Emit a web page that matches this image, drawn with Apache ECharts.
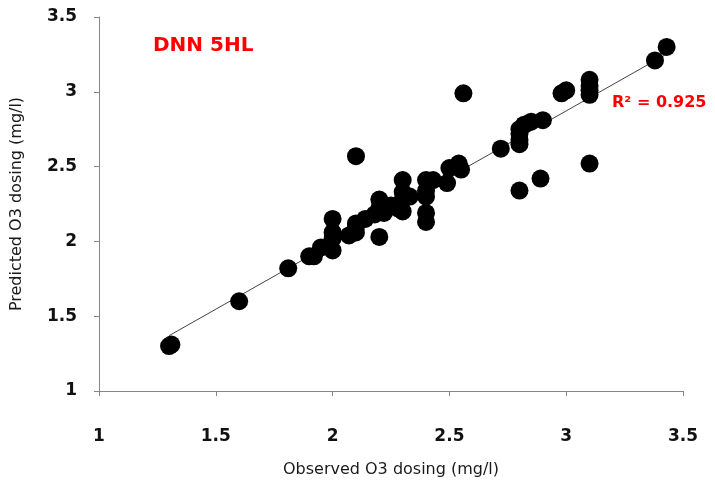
<!DOCTYPE html>
<html>
<head>
<meta charset="utf-8">
<script src="https://cdn.jsdelivr.net/npm/echarts@6/dist/echarts.min.js"></script>
<style>html,body{margin:0;padding:0;background:#fff}#c{width:715px;height:490px}</style>
</head>
<body>
<div id="c"></div>
<script>
// observed (x) and predicted (y) O3 dosing, mg/l
var observed = [1.30,1.31,1.60,1.81,1.90,1.92,1.95,2.00,2.00,2.00,2.00,2.07,2.10,2.10,2.10,2.10,2.14,2.18,2.20,2.20,2.20,2.22,2.25,2.28,2.30,2.30,2.30,2.30,2.33,2.40,2.40,2.40,2.40,2.40,2.43,2.49,2.50,2.54,2.55,2.56,2.72,2.80,2.80,2.80,2.80,2.80,2.82,2.85,2.90,2.89,2.98,3.00,3.10,3.10,3.10,3.10,3.10,3.38,3.43];
var predicted = [1.30,1.31,1.60,1.82,1.90,1.90,1.96,1.94,2.02,2.06,2.15,2.04,2.06,2.10,2.12,2.57,2.15,2.18,2.03,2.22,2.28,2.19,2.24,2.22,2.20,2.28,2.33,2.41,2.30,2.13,2.19,2.30,2.34,2.41,2.41,2.39,2.49,2.52,2.48,2.99,2.62,2.34,2.65,2.68,2.72,2.75,2.78,2.80,2.81,2.42,2.99,3.01,2.52,2.98,3.01,3.04,3.08,3.21,3.30];
var trendX = [1.30, 3.45];
var trendY = [1.37, 3.27];
var chartTitle = 'DNN 5HL';
var r2Label = 'R² = 0.925';

var points = observed.map(function(v,i){return [v, predicted[i]];});
var trend = trendX.map(function(v,i){return [v, trendY[i]];});
var font = '"DejaVu Sans", sans-serif';
var axisCommon = {
  type: 'value', min: 1, max: 3.5, interval: 0.5,
  axisLine: {show: true, lineStyle: {color: '#868686', width: 1}},
  axisTick: {show: true, inside: false, length: 5, lineStyle: {color: '#868686'}},
  splitLine: {show: false},
  nameLocation: 'middle',
  nameTextStyle: {fontFamily: font, fontSize: 16, color: '#1a1a1a'}
};
var chart = echarts.init(document.getElementById('c'));
chart.setOption({
  animation: false,
  backgroundColor: '#fff',
  grid: {left: 99, right: 32, top: 17, bottom: 99, outerBoundsMode: 'none', containLabel: false},
  xAxis: Object.assign({}, axisCommon, {
    name: 'Observed O3 dosing (mg/l)', nameGap: 71,
    axisLabel: {fontFamily: font, fontSize: 17, fontWeight: 'bold', color: '#111', margin: 37}
  }),
  yAxis: Object.assign({}, axisCommon, {
    name: 'Predicted O3 dosing (mg/l)', nameGap: 74,
    axisLabel: {fontFamily: font, fontSize: 17, fontWeight: 'bold', color: '#111', margin: 22}
  }),
  series: [
    {type: 'line', data: trend, symbol: 'none', z: 1,
     lineStyle: {color: '#444', width: 1}},
    {type: 'scatter', data: points, symbol: 'circle', symbolSize: 18, z: 2,
     itemStyle: {color: '#000', opacity: 1}}
  ],
  graphic: [
    {type: 'text', left: 153, top: 36, style: {text: chartTitle, fill: '#ff0000', font: 'bold 20px ' + font}},
    {type: 'text', left: 612, top: 95, style: {text: r2Label, fill: '#ff0000', font: 'bold 16px ' + font}}
  ]
});
</script>
</body>
</html>
